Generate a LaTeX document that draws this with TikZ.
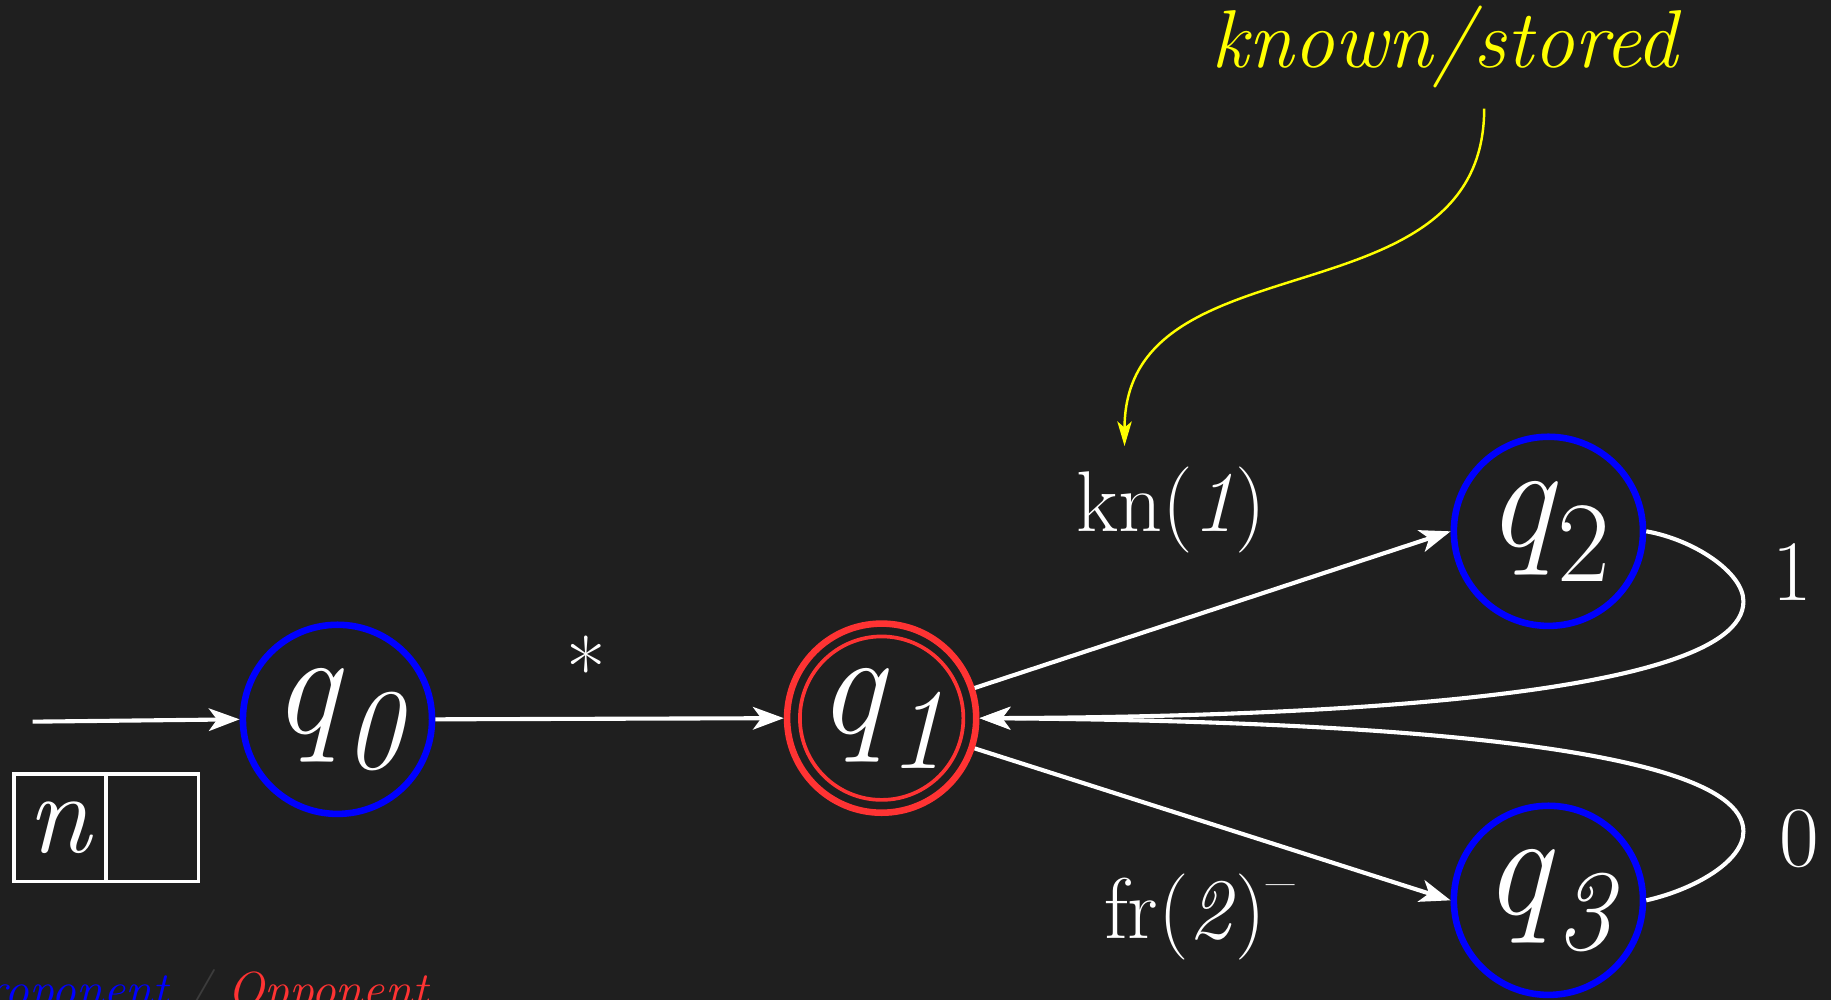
\documentclass[tikz,border=0pt]{standalone}
\usepackage{fontspec}
\usetikzlibrary{arrows.meta}
\definecolor{bg}{HTML}{1F1F1F}
\definecolor{propblue}{HTML}{0000FF}
\definecolor{oppred}{HTML}{FF3333}
\definecolor{notecol}{HTML}{FFFF00}
\definecolor{slashgray}{HTML}{3C3C3C}
\newcommand\qsub[1]{\textit{q}\raisebox{-17pt}{\fontsize{56}{56}\selectfont #1}}
\begin{document}
\begin{tikzpicture}[x=0.02cm,y=-0.02cm,
  state/.style={circle, draw, line width=3.2pt, minimum size=3.24cm, inner sep=0pt, text=white, font=\fontsize{72}{72}\selectfont},
  pstate/.style={state, draw=propblue},
  ostate/.style={state, draw=oppred},
  edge/.style={draw=white, line width=2pt, -{Stealth[length=15pt,width=11pt,inset=4pt]}},
  lbl/.style={text=white, font=\fontsize{42}{42}\selectfont, inner sep=0pt},
  cell/.style={rectangle, draw=white, line width=1.8pt, minimum width=1.58cm, minimum height=1.84cm, inner sep=0pt, text=white, font=\fontsize{56}{56}\selectfont},
  note/.style={text=notecol, font=\fontsize{40}{40}\selectfont\itshape, inner sep=0pt},
  notearrow/.style={draw=notecol, line width=1.2pt, -{Stealth[length=12pt,width=7pt,inset=3pt]}}
]
\fill[bg] (0,0) rectangle (1568,856);
\clip (0,0) rectangle (1568,856);

% states
\node[pstate] (q0) at (289,616) {\qsub{\itshape 0}};
\node[ostate] (q1) at (755,615) {\qsub{\itshape 1}};
\draw[oppred, line width=1.8pt] (q1.center) circle (1.4cm);
\node[pstate] (q2) at (1326,455) {\qsub{2}};
\node[pstate] (q3) at (1326,771) {\qsub{\itshape 3}};

% initial arrow and register box
\coordinate (init) at (28,618);
\draw[edge] (init) -- (q0.west);
\node[cell] (c1) at (51.5,709) {\textit{n}};
\node[cell] (c2) at (130.5,709) {};

% transitions
\draw[edge] (q0.east) -- (q1.west);
\node[lbl] (star) at (502,572) {*};
\draw[edge] (q1.18) -- (q2.west);
\node[lbl] (kn) at (1003,437) {kn(\textit{1})};
\draw[edge] (q1.-18) -- (q3.west);
\node[lbl] (fr) at (1027,785) {fr(\textit{2})\raisebox{18pt}{\fontsize{30}{30}\selectfont –}};
\draw[edge] (q2.east) .. controls (1450,462) and (1493,490) .. (1493,515)
   .. controls (1493,600) and (1100,614) .. (q1.east);
\node[lbl] (one) at (1535,490) {1};
\draw[edge] (q3.east) .. controls (1450,762) and (1493,738) .. (1493,712)
   .. controls (1493,630) and (1100,617) .. (q1.east);
\node[lbl] (zero) at (1541,718) {0};

% annotation
\node[note] (ks) at (1237,40) {known/stored};
\coordinate (ksfrom) at (1271,93);
\coordinate (ksto) at (963,382);
\draw[notearrow] (ksfrom) .. controls (1271,280) and (963,200) .. (ksto);

% legend
\node[anchor=base east, inner sep=0pt, font=\fontsize{24}{24}\selectfont\itshape] (legend) at (367,862)
  {\textcolor{propblue}{Proponent} \textcolor{slashgray}{/} \textcolor{oppred}{Opponent}};
\end{tikzpicture}
\end{document}
